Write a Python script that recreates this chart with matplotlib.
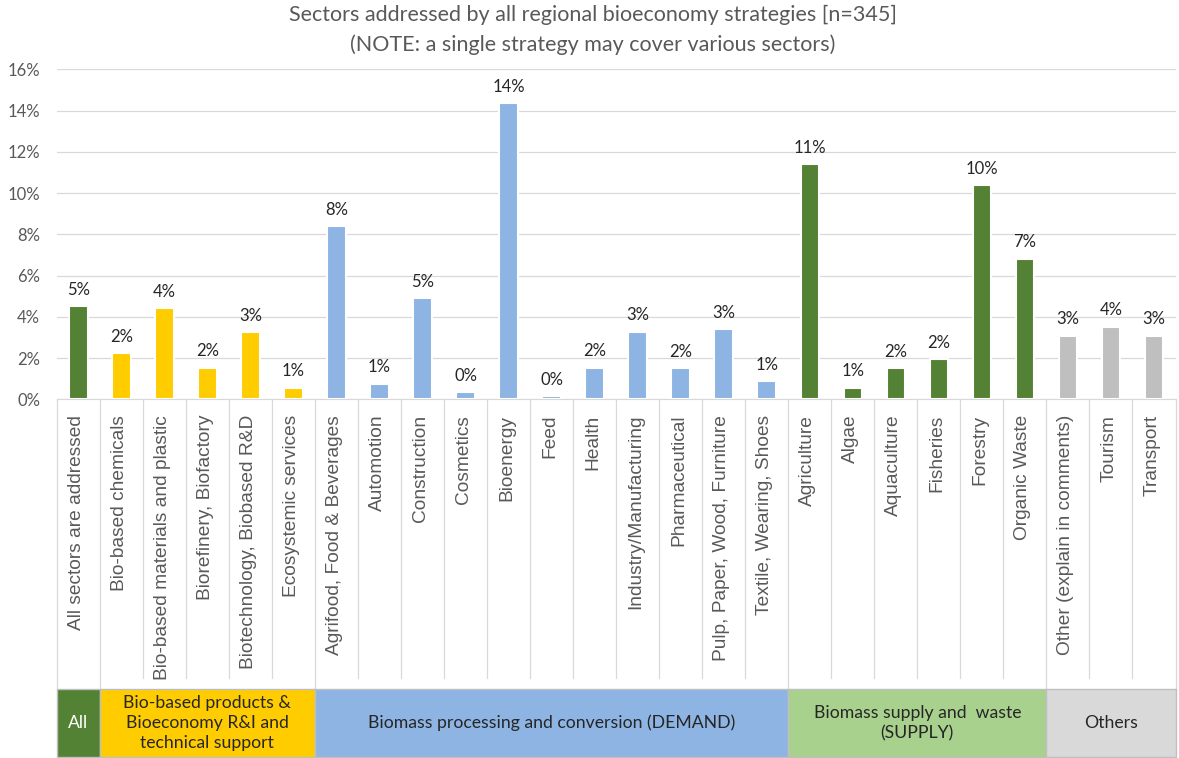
import matplotlib
matplotlib.use('Agg')
import matplotlib.pyplot as plt
import matplotlib.transforms as mtransforms
from matplotlib.patches import Rectangle

# sectors and their share (%)
sectors = ['All sectors are addressed', 'Bio-based chemicals', 'Bio-based materials and plastic',
           'Biorefinery, Biofactory', 'Biotechnology, Biobased R&D', 'Ecosystemic services',
           'Agrifood, Food & Beverages', 'Automotion', 'Construction', 'Cosmetics', 'Bioenergy',
           'Feed', 'Health', 'Industry/Manufacturing', 'Pharmaceutical', 'Pulp, Paper, Wood, Furniture',
           'Textile, Wearing, Shoes', 'Agriculture', 'Algae', 'Aquaculture', 'Fisheries', 'Forestry',
           'Organic Waste', 'Other (explain in comments)', 'Tourism', 'Transport']
shares = [4.52, 2.25, 4.41, 1.53, 3.26, 0.57,
          8.38, 0.76, 4.90, 0.34, 14.35, 0.15, 1.53, 3.28, 1.52, 3.39, 0.87,
          11.39, 0.57, 1.52, 1.95, 10.37, 6.82,
          3.09, 3.52, 3.09]

# groups shown in the band under the labels
group_names = ['All', 'Bio-based products &\nBioeconomy R&I and\ntechnical support',
               'Biomass processing and conversion (DEMAND)',
               'Biomass supply and  waste\n(SUPPLY)', 'Others']
group_sizes = [1, 5, 11, 6, 3]
bar_colors = ['#548235', '#FFCC00', '#8DB4E2', '#548235', '#BFBFBF']
band_colors = ['#548235', '#FFCC00', '#8DB4E2', '#A9D18E', '#D9D9D9']
band_text_colors = ['white', '#262626', '#262626', '#262626', '#262626']

calibri = 'Lato'
arial = 'Liberation Sans'

W, H = 1179, 758
fig = plt.figure(figsize=(W / 100, H / 100), dpi=100)
ax = fig.add_axes([56.8 / W, 1 - 399.3 / H, (1175.5 - 56.8) / W, 330 / H])

# colour per bar from the group it belongs to
colors = []
for size, c in zip(group_sizes, bar_colors):
    colors += [c] * size

x = list(range(len(sectors)))
ax.bar(x, shares, width=0.43, color=colors, edgecolor='white', linewidth=1.5, zorder=3)

for xi, v in zip(x, shares):
    ax.annotate(f'{v:.0f}%', (xi, v), xytext=(0, 6), textcoords='offset points',
                ha='center', va='bottom', fontsize=12, color='#262626', family=calibri)

ax.set_xlim(-0.5, len(sectors) - 0.5)
ax.set_ylim(0, 16)
ax.set_yticks(range(0, 17, 2))
ax.set_yticklabels([f'{t}%' for t in range(0, 17, 2)], fontsize=12, color='#595959', family=calibri)
ax.tick_params(axis='y', length=0, pad=12)
ax.set_xticks([])
ax.grid(axis='y', color='#D9D9D9', linewidth=0.9, zorder=0)
ax.set_axisbelow(True)
for s in ['top', 'right', 'left']:
    ax.spines[s].set_visible(False)
ax.spines['bottom'].set_color('#D9D9D9')

trans = mtransforms.blended_transform_factory(ax.transData, ax.transAxes)

# category labels
for xi, name in zip(x, sectors):
    ax.text(xi - 0.05, -0.047, name, transform=trans, rotation=90, ha='center', va='top',
            fontsize=13.8, color='#595959', family=arial)

# separators between categories, longer ones at group edges
edges = [0]
for size in group_sizes:
    edges.append(edges[-1] + size)
for i in range(len(sectors) + 1):
    y_end = -0.879 if i in edges else -0.8445
    ax.plot([i - 0.5, i - 0.5], [0, y_end], transform=trans, color='#D9D9D9',
            linewidth=0.9, clip_on=False, zorder=1)

# group band
for k, name in enumerate(group_names):
    x0 = edges[k] - 0.5
    rect = Rectangle((x0, -1.083), group_sizes[k], 0.204, transform=trans,
                     facecolor=band_colors[k], edgecolor='#BFBFBF', linewidth=1, clip_on=False)
    ax.add_patch(rect)
    ax.text(x0 + group_sizes[k] / 2, -0.981, name, transform=trans, ha='center', va='center',
            fontsize=12.7, color=band_text_colors[k], family=calibri, linespacing=1.3)

fig.text(0.503, 1 - 15 / H, 'Sectors addressed by all regional bioeconomy strategies [n=345]',
         ha='center', va='center', fontsize=15.5, color='#595959', family=calibri)
fig.text(0.503, 1 - 45 / H, '(NOTE: a single strategy may cover various sectors)',
         ha='center', va='center', fontsize=15.5, color='#595959', family=calibri)

fig.savefig('out.png', dpi=100)
